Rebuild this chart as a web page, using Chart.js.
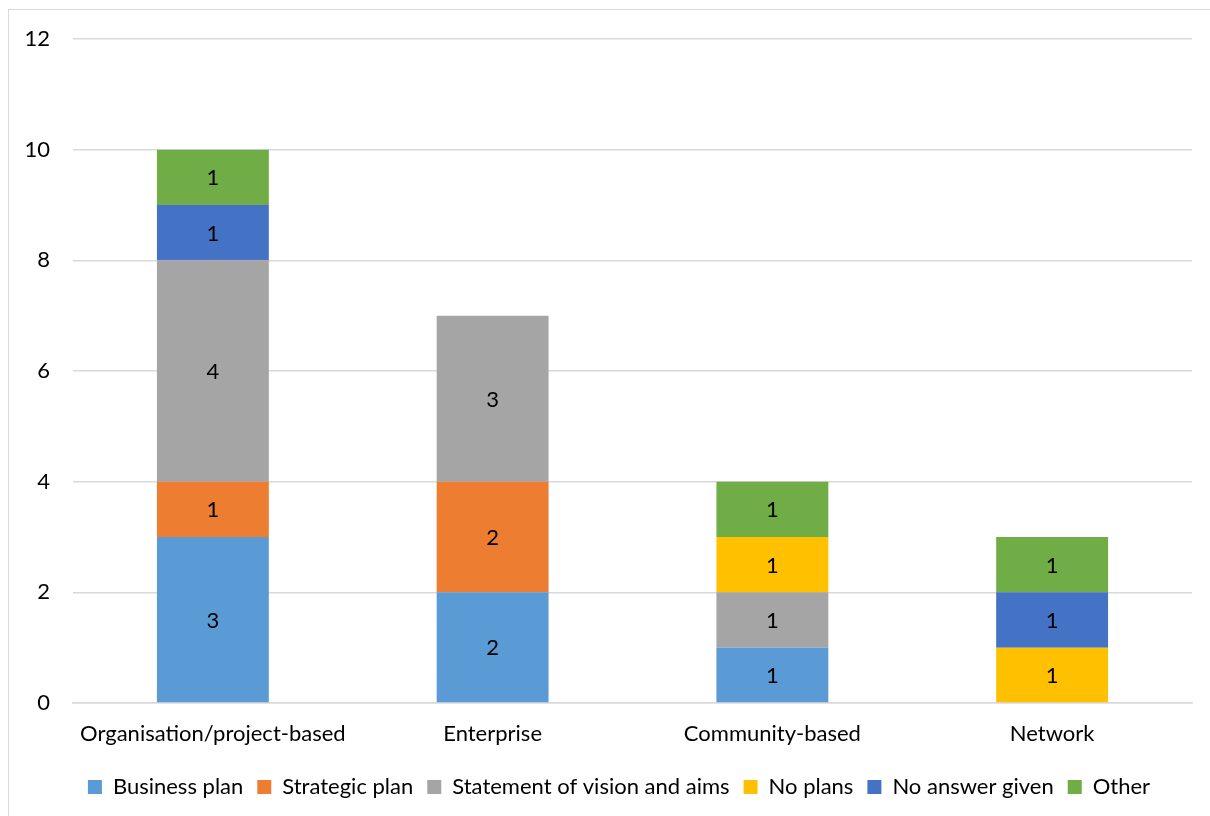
<!DOCTYPE html>
<html>
<head>
<meta charset="utf-8">
<script src="https://cdn.jsdelivr.net/npm/chart.js@4/dist/chart.umd.min.js"></script>
<style>
  html, body { margin: 0; padding: 0; background: #fff; }
  #frame { position: absolute; left: 8px; top: 9px; width: 1220px; height: 830px; border: 1px solid #d9d9d9; }
  #wrap { position: absolute; left: 0; top: 0; width: 1210px; height: 816px; }
</style>
</head>
<body>
<div id="frame"></div>
<div id="wrap"><canvas id="planChart"></canvas></div>
<script>
const categories = ["Organisation/project-based", "Enterprise", "Community-based", "Network"];
const seriesNames = ["Business plan", "Strategic plan", "Statement of vision and aims", "No plans", "No answer given", "Other"];
const seriesColors = ["#5B9BD5", "#ED7D31", "#A5A5A5", "#FFC000", "#4472C4", "#70AD47"];

// counts per category, null where a group has none
const businessPlan = [3, 2, 1, null];
const strategicPlan = [1, 2, null, null];
const visionAims = [4, 3, 1, null];
const noPlans = [null, null, 1, 1];
const noAnswer = [1, null, null, 1];
const other = [1, null, 1, 1];

const yTicks = [0, 2, 4, 6, 8, 10, 12];

const FONT = "Lato, 'Open Sans', sans-serif";
const FSIZE = 22;

// write the value in the middle of each segment
const segmentLabels = {
  id: "segmentLabels",
  afterDatasetsDraw(chart) {
    const ctx = chart.ctx;
    ctx.save();
    ctx.fillStyle = "#000";
    ctx.font = FSIZE + "px " + FONT;
    ctx.textAlign = "center";
    ctx.textBaseline = "middle";
    chart.data.datasets.forEach((ds, i) => {
      const meta = chart.getDatasetMeta(i);
      meta.data.forEach((bar, j) => {
        const v = ds.data[j];
        if (v == null) return;
        const mid = (bar.y + bar.base) / 2;
        ctx.fillText(String(v), bar.x, mid + 1);
      });
    });
    ctx.restore();
  }
};

// nudge the legend right so it sits centred under the frame
const legendShift = {
  id: "legendShift",
  afterLayout(chart) {
    if (!chart.legend) return;
    chart.legend.left += 23;
    chart.legend.right += 23;
  }
};

const allSeries = [businessPlan, strategicPlan, visionAims, noPlans, noAnswer, other];

new Chart(document.getElementById("planChart"), {
  type: "bar",
  data: {
    labels: categories,
    datasets: allSeries.map((vals, i) => ({
      label: seriesNames[i],
      data: vals,
      backgroundColor: seriesColors[i],
      borderWidth: 0,
      categoryPercentage: 1,
      barPercentage: 0.4
    }))
  },
  options: {
    responsive: true,
    maintainAspectRatio: false,
    animation: false,
    layout: { padding: { top: 39, right: 18, bottom: 8, left: 0 } },
    plugins: {
      tooltip: { enabled: false },
      legend: {
        position: "bottom",
        labels: {
          color: "#000",
          font: { family: FONT, size: FSIZE },
          boxWidth: 14,
          boxHeight: 14,
          padding: 14
        }
      }
    },
    scales: {
      x: {
        stacked: true,
        grid: { display: false, drawTicks: false },
        border: { display: true, color: "#d9d9d9", width: 1.5 },
        ticks: { color: "#000", font: { family: FONT, size: FSIZE }, padding: 18 },
        afterFit(scale) { scale.height = 59; }
      },
      y: {
        stacked: true,
        min: 0,
        max: 12,
        afterBuildTicks(scale) { scale.ticks = yTicks.map(v => ({ value: v })); },
        grid: { color: "#d9d9d9", lineWidth: 1.5, drawTicks: false },
        border: { display: false },
        ticks: { color: "#000", font: { family: FONT, size: FSIZE }, padding: 23 },
        afterFit(scale) { scale.width = 73; }
      }
    }
  },
  plugins: [segmentLabels, legendShift]
});
</script>
</body>
</html>
